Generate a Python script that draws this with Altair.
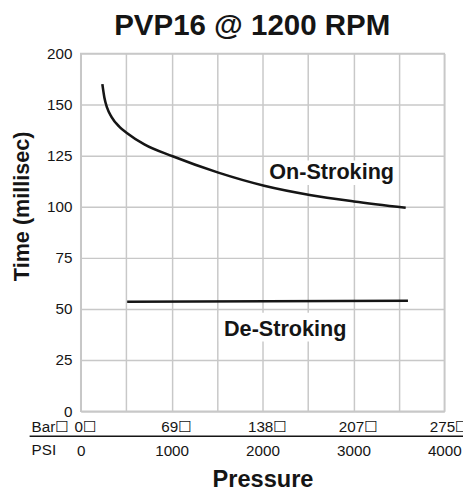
import json
import altair as alt
import pandas as pd

# ---- data ----
on_psi = [238, 260, 290, 338, 429, 511, 700, 1011, 1514, 2018, 2519, 3005, 3575]
on_time = [160.0, 153.5, 148.5, 144.0, 139.0, 136.0, 130.5, 124.7, 116.7, 110.3, 105.8, 102.6, 99.5]
de_psi = [511, 3600]
de_time = [53.5, 54.0]

psi_ticks = [0, 1000, 2000, 3000, 4000]
bar_labels = ["0\u2610", "69\u2610", "138\u2610", "207\u2610", "275\u2610"]
grid_psi = [0, 500, 1000, 1500, 2000, 2500, 3000, 3500, 4000]
time_ticks = [0, 25, 50, 75, 100, 125, 150, 175]
time_labels = ["0", "25", "50", "75", "100", "125", "150", "200"]

curve_names = ["On-Stroking", "De-Stroking"]
name_psi = [2760, 2250]
name_time = [113.8, 36.9]
box_psi = [2030, 1520]
box_psi2 = [3490, 2970]
box_time = [110.6, 34.1]
box_time2 = [122.6, 48.1]

chart_title = "PVP16 @ 1200 RPM"
row_heads = ["Bar\u2610", "PSI"]

FONT = "Liberation Sans"
FONT_BOX = "Liberation Sans, DejaVu Sans"
INK = "#151515"
GRID = "#c8c8c8"

on_df = pd.DataFrame({"psi": on_psi, "time": on_time})
de_df = pd.DataFrame({"psi": de_psi, "time": de_time})
bar_df = pd.DataFrame({"psi": psi_ticks, "bar": bar_labels})
name_df = pd.DataFrame({"psi": name_psi, "time": name_time, "name": curve_names})
box_df = pd.DataFrame({"psi": box_psi, "psi2": box_psi2, "t": box_time, "t2": box_time2})
one = pd.DataFrame({"k": [0]})

xscale = alt.Scale(domain=[0, 4000], nice=False, zero=False)
yscale = alt.Scale(domain=[0, 175], nice=False)

ylab_expr = f"{json.dumps(time_labels)}[indexof({json.dumps(time_ticks)}, datum.value)]"

xaxis = alt.Axis(
    values=grid_psi, format="d",
    labelExpr="datum.value % 1000 == 0 ? datum.label : ''",
    ticks=False, grid=True, gridColor=GRID, gridWidth=1.5,
    domainColor=GRID, domainWidth=1.5,
    labelFont=FONT, labelFontSize=15.5, labelColor=INK, labelPadding=40,
    labelBaseline="middle", labelFlush=False,
    title="Pressure", titleFont=FONT, titleFontSize=24, titleFontWeight="bold",
    titleColor=INK, titleY=77, titleBaseline="alphabetic",
)
yaxis = alt.Axis(
    values=time_ticks, labelExpr=ylab_expr,
    ticks=False, grid=True, gridColor=GRID, gridWidth=1.5,
    domainColor=GRID, domainWidth=1.5,
    labelFont=FONT, labelFontSize=15.5, labelColor=INK, labelPadding=9,
    labelBaseline="middle",
    title="Time (millisec)", titleFont=FONT, titleFontSize=22, titleFontWeight="bold",
    titleColor=INK, titleX=-60, titleY=155, titleAngle=270,
    titleBaseline="middle", titleAlign="center",
)

boxes = alt.Chart(box_df).mark_rect(color="white").encode(
    x=alt.X("psi:Q", scale=xscale, axis=xaxis),
    x2="psi2:Q",
    y=alt.Y("t:Q", scale=yscale, axis=yaxis),
    y2="t2:Q",
)

on_line = alt.Chart(on_df).mark_line(
    color=INK, strokeWidth=2.6, interpolate="monotone"
).encode(x=alt.X("psi:Q", scale=xscale), y=alt.Y("time:Q", scale=yscale))

de_line = alt.Chart(de_df).mark_line(color=INK, strokeWidth=2.6).encode(
    x=alt.X("psi:Q", scale=xscale), y=alt.Y("time:Q", scale=yscale)
)

names = alt.Chart(name_df).mark_text(
    font=FONT, fontSize=22, fontWeight="bold", color=INK,
    align="center", baseline="alphabetic",
).encode(
    x=alt.X("psi:Q", scale=xscale), y=alt.Y("time:Q", scale=yscale), text="name:N"
)

bar_row = alt.Chart(bar_df).mark_text(
    font=FONT_BOX, fontSize=15.5, color=INK, align="center", baseline="middle", dx=5
).encode(x=alt.X("psi:Q", scale=xscale), y=alt.value(380), text="bar:N")

bar_head = alt.Chart(one).mark_text(
    text=row_heads[0], font=FONT_BOX, fontSize=15.5, color=INK, align="left", baseline="middle"
).encode(x=alt.value(-50), y=alt.value(380))

psi_head = alt.Chart(one).mark_text(
    text=row_heads[1], font=FONT, fontSize=15.5, color=INK, align="left", baseline="middle"
).encode(x=alt.value(-50), y=alt.value(404))

sep = alt.Chart(one).mark_rule(color=INK, strokeWidth=1.5).encode(
    x=alt.value(-52), x2=alt.value(400), y=alt.value(389.5)
)

title = alt.Chart(one).mark_text(
    text=chart_title, font=FONT, fontSize=30, fontWeight="bold", color=INK,
    align="center", baseline="alphabetic",
).encode(x=alt.value(174.5), y=alt.value(-19))

chart = alt.layer(
    boxes, on_line, de_line, names, bar_row, bar_head, psi_head, sep, title
).properties(
    width=370, height=364,
    padding={"left": 74, "top": 42, "right": 19, "bottom": 81},
    autosize=alt.AutoSizeParams(type="none"),
).configure_view(stroke=GRID, strokeWidth=1.5)

chart.save("out.html", embed_options={"renderer": "svg", "actions": False})
